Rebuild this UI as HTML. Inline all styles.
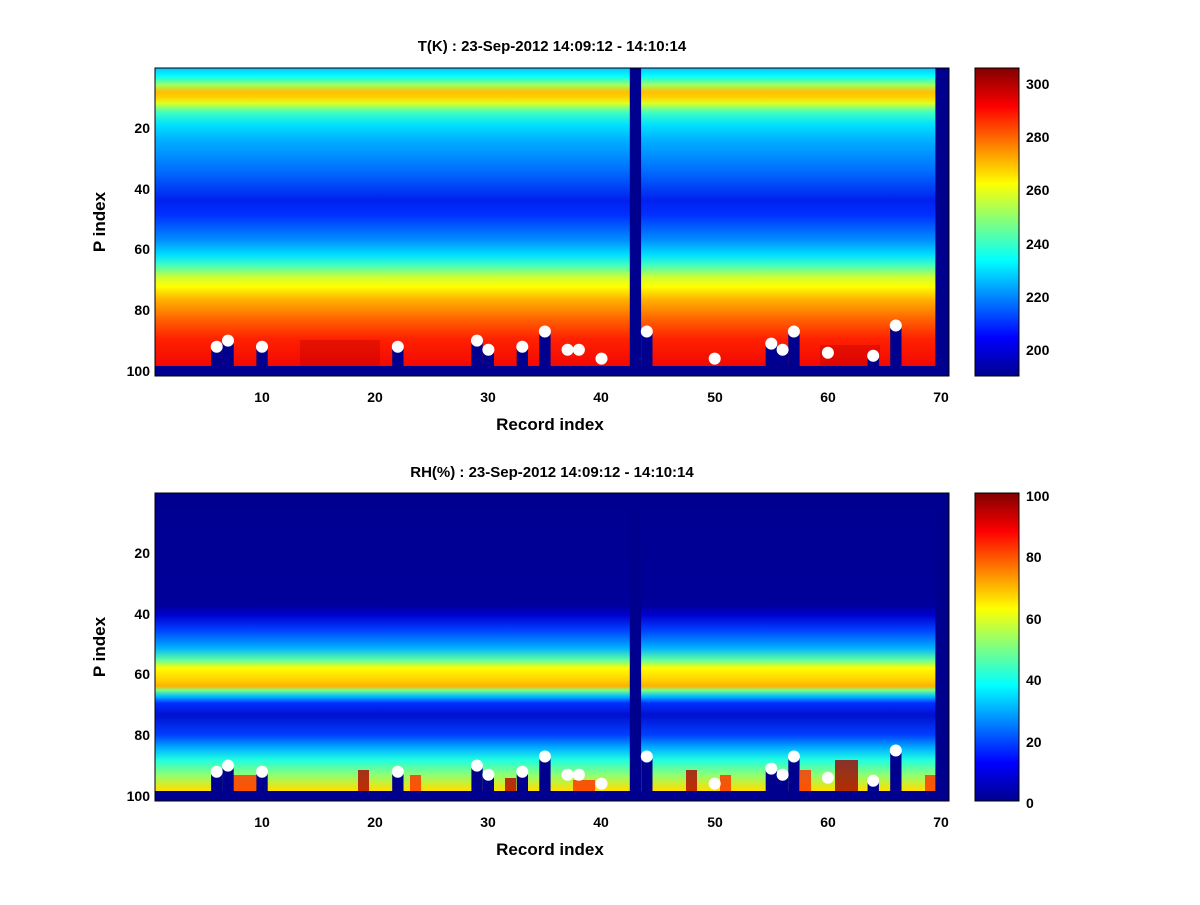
<!DOCTYPE html>
<html><head><meta charset="utf-8"><style>
html,body{margin:0;padding:0;background:#fff}
text{font-family:"Liberation Sans",sans-serif;font-weight:bold;fill:#000}
</style></head><body>
<svg width="1200" height="900" viewBox="0 0 1200 900" xmlns="http://www.w3.org/2000/svg">
<defs>
<linearGradient id="gt" x1="0" y1="0" x2="0" y2="1">
<stop offset="0" stop-color="#10c0ff"/>
<stop offset="0.026" stop-color="#00ffff"/>
<stop offset="0.055" stop-color="#a0ff60"/>
<stop offset="0.078" stop-color="#ffc000"/>
<stop offset="0.094" stop-color="#ffd000"/>
<stop offset="0.114" stop-color="#e0ff20"/>
<stop offset="0.143" stop-color="#40ffc0"/>
<stop offset="0.185" stop-color="#00e0ff"/>
<stop offset="0.234" stop-color="#00b0ff"/>
<stop offset="0.33" stop-color="#0070ff"/>
<stop offset="0.43" stop-color="#0020f0"/>
<stop offset="0.477" stop-color="#0030ff"/>
<stop offset="0.56" stop-color="#0090ff"/>
<stop offset="0.607" stop-color="#00e0ff"/>
<stop offset="0.64" stop-color="#40ffc0"/>
<stop offset="0.68" stop-color="#d0ff30"/>
<stop offset="0.71" stop-color="#ffff00"/>
<stop offset="0.753" stop-color="#ffb000"/>
<stop offset="0.818" stop-color="#ff6000"/>
<stop offset="0.88" stop-color="#ff2000"/>
<stop offset="1" stop-color="#ee0000"/>
</linearGradient>
<linearGradient id="gh" x1="0" y1="0" x2="0" y2="1">
<stop offset="0" stop-color="#00008f"/>
<stop offset="0.364" stop-color="#00009a"/>
<stop offset="0.396" stop-color="#0000d0"/>
<stop offset="0.445" stop-color="#0040ff"/>
<stop offset="0.503" stop-color="#00b0ff"/>
<stop offset="0.542" stop-color="#60ffa0"/>
<stop offset="0.568" stop-color="#ffff00"/>
<stop offset="0.607" stop-color="#ffd000"/>
<stop offset="0.627" stop-color="#ffb000"/>
<stop offset="0.64" stop-color="#80ff80"/>
<stop offset="0.66" stop-color="#00c0ff"/>
<stop offset="0.682" stop-color="#0030ff"/>
<stop offset="0.72" stop-color="#0010d0"/>
<stop offset="0.786" stop-color="#0040ff"/>
<stop offset="0.828" stop-color="#00b0ff"/>
<stop offset="0.867" stop-color="#20ffe0"/>
<stop offset="0.916" stop-color="#90ff70"/>
<stop offset="0.964" stop-color="#ffe000"/>
<stop offset="1" stop-color="#ffd000"/>
</linearGradient>
<linearGradient id="jet" x1="0" y1="1" x2="0" y2="0">
<stop offset="0" stop-color="#00008f"/>
<stop offset="0.125" stop-color="#0000ff"/>
<stop offset="0.375" stop-color="#00ffff"/>
<stop offset="0.625" stop-color="#ffff00"/>
<stop offset="0.875" stop-color="#ff0000"/>
<stop offset="1" stop-color="#800000"/>
</linearGradient>
<g id="cols">
<rect x="211.1" y="346.7" width="11.3" height="20" fill="#00008f"/>
<rect x="222.4" y="340.6" width="11.3" height="26" fill="#00008f"/>
<rect x="256.4" y="346.7" width="11.3" height="20" fill="#00008f"/>
<rect x="392.2" y="346.7" width="11.3" height="20" fill="#00008f"/>
<rect x="471.4" y="340.6" width="11.3" height="26" fill="#00008f"/>
<rect x="482.7" y="349.7" width="11.3" height="17" fill="#00008f"/>
<rect x="516.7" y="346.7" width="11.3" height="20" fill="#00008f"/>
<rect x="539.3" y="331.5" width="11.3" height="35" fill="#00008f"/>
<rect x="641.2" y="331.5" width="11.3" height="35" fill="#00008f"/>
<rect x="765.7" y="343.6" width="11.3" height="23" fill="#00008f"/>
<rect x="777" y="349.7" width="11.3" height="17" fill="#00008f"/>
<rect x="788.3" y="331.5" width="11.3" height="35" fill="#00008f"/>
<rect x="867.6" y="355.8" width="11.3" height="11" fill="#00008f"/>
<rect x="890.2" y="325.5" width="11.3" height="41" fill="#00008f"/>
<rect x="629.8" y="68" width="11.3" height="308" fill="#00008f"/>
<rect x="935.4" y="68" width="13.6" height="308" fill="#00008f"/>
<rect x="155" y="366" width="794" height="10" fill="#00008f"/>
</g>
<g id="dots" fill="#fff">
<circle cx="216.7" cy="346.7" r="6"/><circle cx="228" cy="340.6" r="6"/>
<circle cx="262" cy="346.7" r="6"/><circle cx="397.8" cy="346.7" r="6"/>
<circle cx="477" cy="340.6" r="6"/><circle cx="488.4" cy="349.7" r="6"/>
<circle cx="522.3" cy="346.7" r="6"/><circle cx="544.9" cy="331.5" r="6"/>
<circle cx="567.6" cy="349.7" r="6"/><circle cx="578.9" cy="349.7" r="6"/>
<circle cx="601.5" cy="358.6" r="6"/><circle cx="646.8" cy="331.5" r="6"/>
<circle cx="714.7" cy="358.6" r="6"/><circle cx="771.3" cy="343.6" r="6"/>
<circle cx="782.6" cy="349.7" r="6"/><circle cx="793.9" cy="331.5" r="6"/>
<circle cx="827.9" cy="352.8" r="6"/><circle cx="873.2" cy="355.8" r="6"/>
<circle cx="895.8" cy="325.5" r="6"/>
</g>
</defs>

<text x="552" y="51" font-size="15" text-anchor="middle">T(K) : 23-Sep-2012 14:09:12 - 14:10:14</text>
<rect x="155" y="68" width="794" height="308" fill="url(#gt)"/>
<rect x="300" y="340" width="80" height="26" fill="#c00000" opacity="0.4"/>
<rect x="820" y="345" width="60" height="21" fill="#c00000" opacity="0.4"/>
<use href="#cols"/>
<use href="#dots"/>
<rect x="155" y="68" width="794" height="308" fill="none" stroke="#000" stroke-width="1"/>
<g font-size="14" text-anchor="end">
<text x="150" y="133">20</text><text x="150" y="194">40</text><text x="150" y="254">60</text><text x="150" y="315">80</text><text x="150" y="376">100</text>
</g>
<g font-size="14" text-anchor="middle">
<text x="262" y="402">10</text><text x="375" y="402">20</text><text x="488" y="402">30</text><text x="601" y="402">40</text><text x="715" y="402">50</text><text x="828" y="402">60</text><text x="941" y="402">70</text>
</g>
<text x="550" y="430" font-size="17" text-anchor="middle">Record index</text>
<text transform="translate(105,222) rotate(-90)" font-size="17" text-anchor="middle">P index</text>
<rect x="975" y="68" width="44" height="308" fill="url(#jet)" stroke="#000"/>
<g font-size="14">
<text x="1026" y="89">300</text><text x="1026" y="142">280</text><text x="1026" y="195">260</text><text x="1026" y="249">240</text><text x="1026" y="302">220</text><text x="1026" y="355">200</text>
</g>

<text x="552" y="477" font-size="15" text-anchor="middle">RH(%) : 23-Sep-2012 14:09:12 - 14:10:14</text>
<rect x="155" y="493" width="794" height="308" fill="url(#gh)"/>
<g fill="#ff3000" opacity="0.8">
<rect x="233" y="775" width="34" height="16"/><rect x="358" y="770" width="11" height="21" fill="#b00000"/>
<rect x="410" y="775" width="11" height="16"/><rect x="505" y="778" width="11" height="13" fill="#b00000"/>
<rect x="573" y="780" width="22" height="11"/><rect x="686" y="770" width="11" height="21" fill="#b00000"/>
<rect x="720" y="775" width="11" height="16"/><rect x="800" y="770" width="11" height="21"/>
<rect x="835" y="760" width="23" height="31" fill="#a00000"/><rect x="925" y="775" width="11" height="16"/>
</g>
<g transform="translate(0,425)"><use href="#cols"/><use href="#dots"/></g>
<rect x="155" y="493" width="794" height="308" fill="none" stroke="#000" stroke-width="1"/>
<g font-size="14" text-anchor="end">
<text x="150" y="558">20</text><text x="150" y="619">40</text><text x="150" y="679">60</text><text x="150" y="740">80</text><text x="150" y="801">100</text>
</g>
<g font-size="14" text-anchor="middle">
<text x="262" y="827">10</text><text x="375" y="827">20</text><text x="488" y="827">30</text><text x="601" y="827">40</text><text x="715" y="827">50</text><text x="828" y="827">60</text><text x="941" y="827">70</text>
</g>
<text x="550" y="855" font-size="17" text-anchor="middle">Record index</text>
<text transform="translate(105,647) rotate(-90)" font-size="17" text-anchor="middle">P index</text>
<rect x="975" y="493" width="44" height="308" fill="url(#jet)" stroke="#000"/>
<g font-size="14">
<text x="1026" y="501">100</text><text x="1026" y="562">80</text><text x="1026" y="624">60</text><text x="1026" y="685">40</text><text x="1026" y="747">20</text><text x="1026" y="808">0</text>
</g>
</svg>
</body></html>
